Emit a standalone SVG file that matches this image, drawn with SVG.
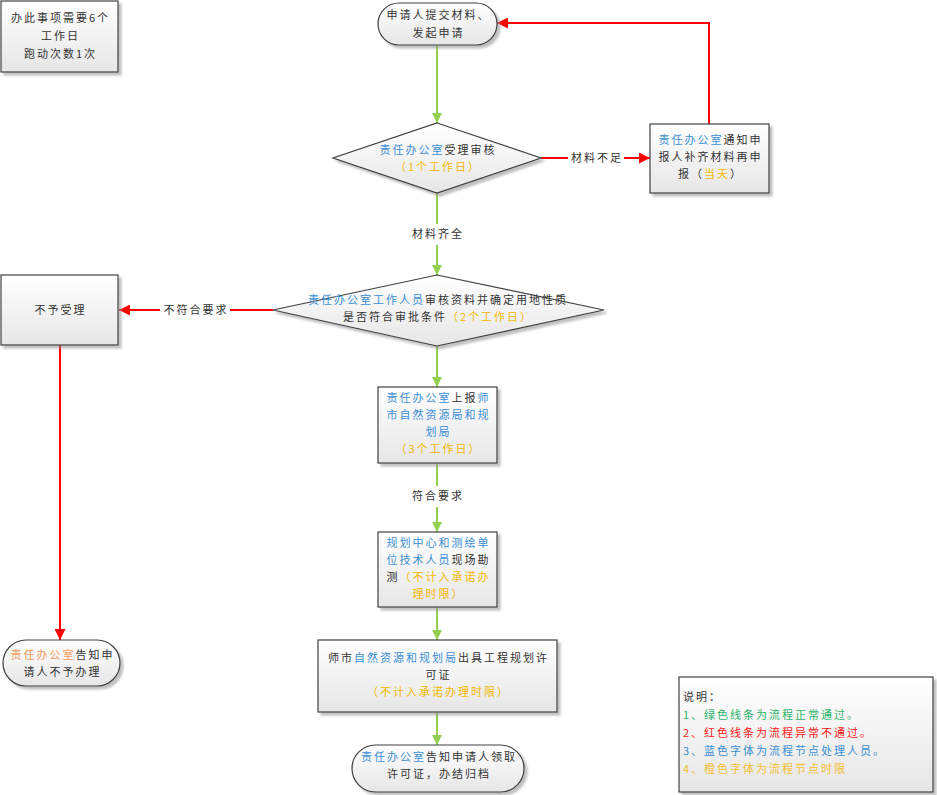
<svg xmlns="http://www.w3.org/2000/svg" width="937" height="795" viewBox="0 0 937 795">
<defs>
<linearGradient id="g" x1="0" y1="0" x2="0" y2="1">
<stop offset="0" stop-color="#ffffff"/>
<stop offset="1" stop-color="#e6e6e6"/>
</linearGradient>
<filter id="sh" x="-10%" y="-10%" width="130%" height="140%">
<feDropShadow dx="3" dy="3" stdDeviation="1.2" flood-color="#8c8c8c" flood-opacity="0.55"/>
</filter>
<marker id="ag" viewBox="0 0 10 10" refX="10" refY="5" markerWidth="10" markerHeight="10" markerUnits="userSpaceOnUse" orient="auto">
<path d="M0,0 L10,5 L0,10 z" fill="#92D050"/>
</marker>
<marker id="ar" viewBox="0 0 10 10" refX="10" refY="5" markerWidth="11" markerHeight="11" markerUnits="userSpaceOnUse" orient="auto">
<path d="M0,0 L10,5 L0,10 z" fill="#FF0000"/>
</marker>
<style>
.n{fill:url(#g);stroke:#404040;stroke-width:1.2;filter:url(#sh)}
text{font-family:"Noto Sans CJK SC","Liberation Sans",sans-serif;font-size:11px;letter-spacing:2px;fill:#333;text-anchor:middle}
.b{fill:#3A8FD4}
.o{fill:#F5B800}
.or{fill:#F59A5A}
.k{fill:#333}
.gl{fill:none;stroke:#92D050;stroke-width:2}
.rl{fill:none;stroke:#FF0000;stroke-width:2}
.lg{text-anchor:start}
</style>
</defs>

<g id="info">
<rect class="n" x="1" y="1" width="117" height="71"/>
<text x="60.5" y="22">办此事项需要6个</text>
<text x="60.5" y="40">工作日</text>
<text x="60.5" y="58">跑动次数1次</text>
</g>

<g id="connectors">
<line class="gl" x1="437" y1="45" x2="437" y2="123" marker-end="url(#ag)"/>
<line class="rl" x1="541" y1="158" x2="568" y2="158"/>
<text x="597" y="162">材料不足</text>
<line class="rl" x1="624" y1="158" x2="650" y2="158" marker-end="url(#ar)"/>
<polyline class="rl" points="709,124 709,23 497,23" marker-end="url(#ar)"/>
<line class="gl" x1="437" y1="193" x2="437" y2="224"/>
<text x="438" y="238">材料齐全</text>
<line class="gl" x1="437" y1="245" x2="437" y2="275" marker-end="url(#ag)"/>
<line class="rl" x1="273" y1="310" x2="230" y2="310"/>
<text x="196" y="314">不符合要求</text>
<line class="rl" x1="160" y1="310" x2="119" y2="310" marker-end="url(#ar)"/>
<line class="rl" x1="60" y1="345" x2="60" y2="640" marker-end="url(#ar)"/>
<line class="gl" x1="437" y1="346" x2="437" y2="387" marker-end="url(#ag)"/>
<line class="gl" x1="437" y1="463" x2="437" y2="486"/>
<text x="438" y="500">符合要求</text>
<line class="gl" x1="437" y1="507" x2="437" y2="532" marker-end="url(#ag)"/>
<line class="gl" x1="437" y1="607" x2="437" y2="640" marker-end="url(#ag)"/>
<line class="gl" x1="437" y1="712" x2="437" y2="745" marker-end="url(#ag)"/>
</g>

<g id="start">
<rect class="n" x="378" y="3" width="119" height="42" rx="21" ry="21"/>
<text x="438.5" y="19">申请人提交材料、</text>
<text x="438.5" y="37">发起申请</text>
</g>

<g id="review1">
<polygon class="n" points="437,123 541,158 437,193 333,158"/>
<text x="438" y="154"><tspan class="b">责任办公室</tspan>受理审核</text>
<text x="438" y="171" class="o">（1个工作日）</text>
</g>

<g id="supplement">
<rect class="n" x="650" y="124" width="119" height="69"/>
<text x="710.5" y="144"><tspan class="b">责任办公室</tspan>通知申</text>
<text x="710.5" y="161">报人补齐材料再申</text>
<text x="710.5" y="178">报（<tspan class="o">当天</tspan>）</text>
</g>

<g id="review2">
<polygon class="n" points="437,275 604,310 437,346 273,310"/>
<text x="438" y="304"><tspan class="b">责任办公室工作人员</tspan>审核资料并确定用地性质</text>
<text x="438" y="321">是否符合审批条件<tspan class="o">（2个工作日）</tspan></text>
</g>

<g id="reject">
<rect class="n" x="1" y="275" width="117" height="70"/>
<text x="60.5" y="314">不予受理</text>
</g>

<g id="notify-reject">
<rect class="n" x="3" y="640" width="117" height="46" rx="23" ry="23"/>
<text x="62.5" y="659"><tspan class="or">责任办公室</tspan>告知申</text>
<text x="62.5" y="676">请人不予办理</text>
</g>

<g id="report">
<rect class="n" x="378" y="387" width="119" height="76"/>
<text x="438.5" y="402"><tspan class="b">责任办公室</tspan>上报<tspan class="b">师</tspan></text>
<text x="438.5" y="419" class="b">市自然资源局和规</text>
<text x="438.5" y="436" class="b">划局</text>
<text x="438.5" y="453" class="o">（3个工作日）</text>
</g>

<g id="survey">
<rect class="n" x="378" y="532" width="119" height="75"/>
<text x="438.5" y="547" class="b">规划中心和测绘单</text>
<text x="438.5" y="564"><tspan class="b">位技术人员</tspan>现场勘</text>
<text x="438.5" y="581">测<tspan class="o">（不计入承诺办</tspan></text>
<text x="438.5" y="598" class="o">理时限）</text>
</g>

<g id="permit">
<rect class="n" x="318" y="640" width="239" height="72"/>
<text x="438.5" y="662"><tspan class="k">师市</tspan><tspan class="b">自然资源和规划局</tspan>出具工程规划许</text>
<text x="438.5" y="679">可证</text>
<text x="438.5" y="696" class="o">（不计入承诺办理时限）</text>
</g>

<g id="end">
<rect class="n" x="352" y="745" width="172" height="47" rx="23.5" ry="23.5"/>
<text x="439" y="761"><tspan class="b">责任办公室</tspan>告知申请人领取</text>
<text x="439" y="778">许可证，办结归档</text>
</g>

<g id="legend">
<rect class="n" x="679" y="677" width="254" height="115"/>
<text class="lg" x="683" y="701">说明：</text>
<text class="lg" x="683" y="719" style="fill:#2DB56A">1、绿色线条为流程正常通过。</text>
<text class="lg" x="683" y="737" style="fill:#FF2020">2、红色线条为流程异常不通过。</text>
<text class="lg" x="683" y="755" style="fill:#3A8FD4">3、蓝色字体为流程节点处理人员。</text>
<text class="lg" x="683" y="773" style="fill:#F5C030">4、橙色字体为流程节点时限</text>
</g>
</svg>
